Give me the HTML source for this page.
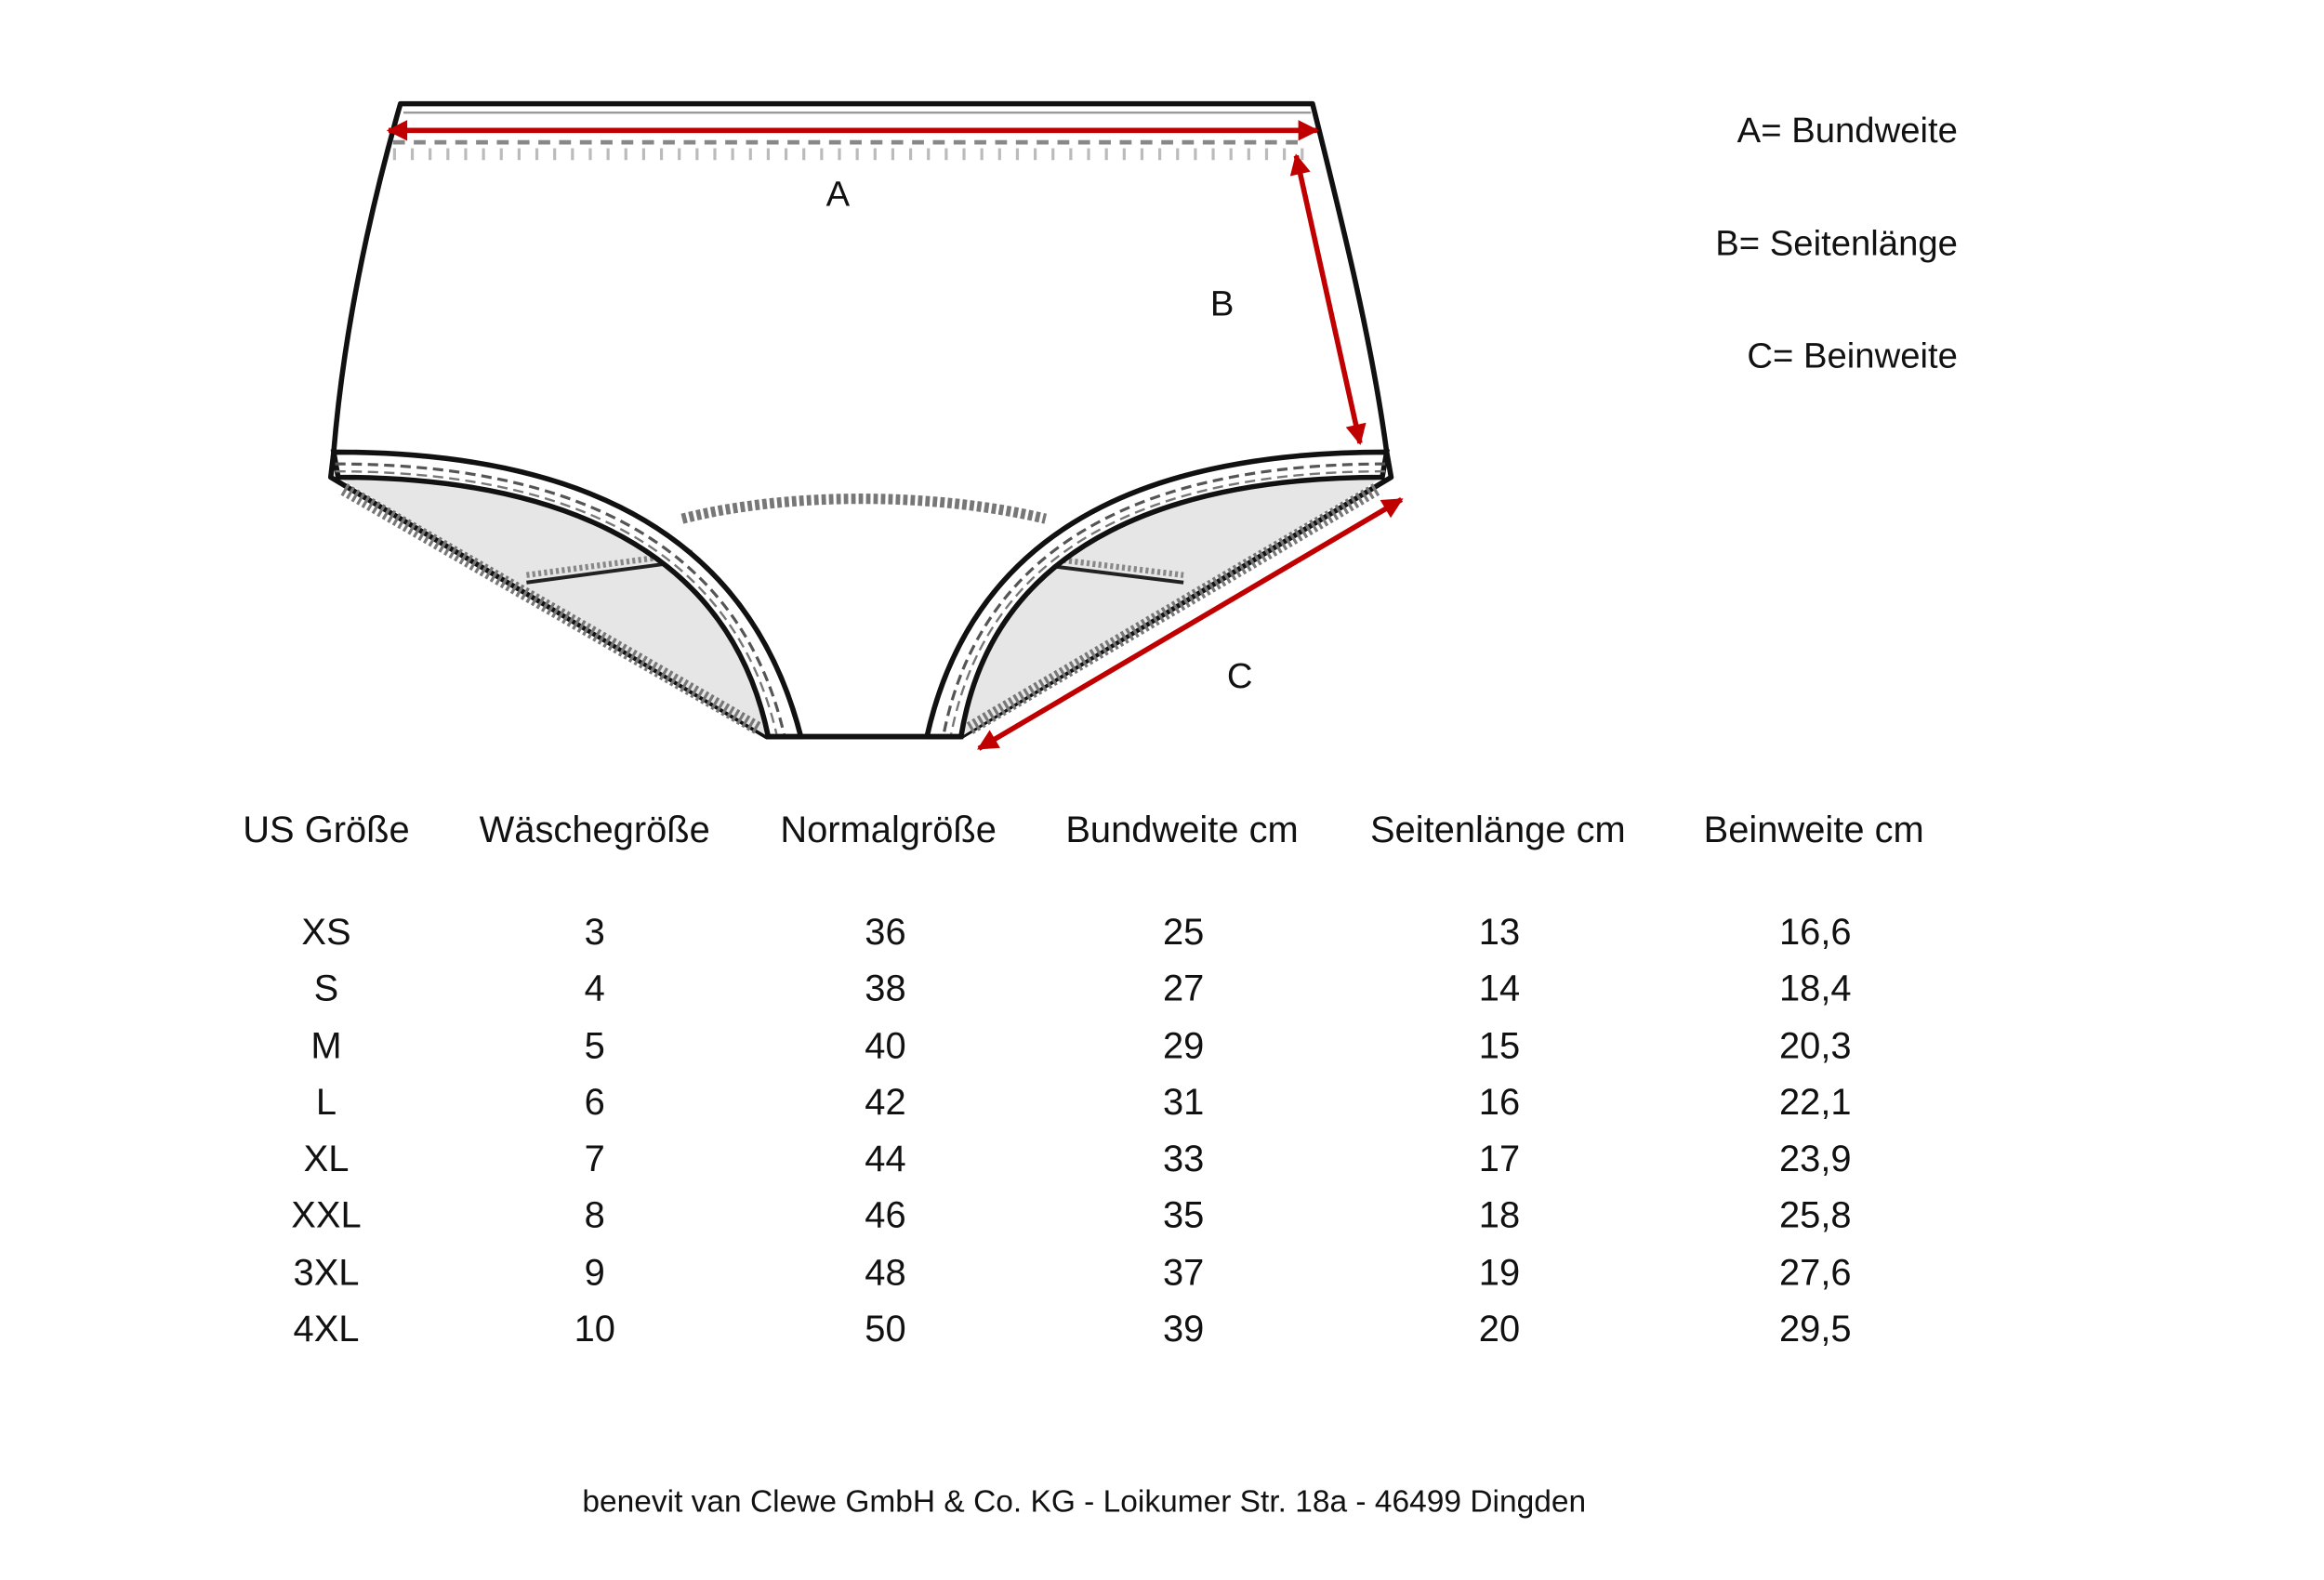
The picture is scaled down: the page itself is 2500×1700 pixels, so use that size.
<!DOCTYPE html>
<html><head><meta charset="utf-8"><style>
html,body{margin:0;padding:0;background:#fff;}
svg{display:block;}
text{font-family:"Liberation Sans Narrow","Liberation Sans",sans-serif;fill:#111;}
</style></head><body>
<svg width="2500" height="1700" viewBox="0 0 1567 1066" preserveAspectRatio="none" xmlns="http://www.w3.org/2000/svg">
<defs>
<marker id="ah2" viewBox="0 0 10 10" markerWidth="16" markerHeight="14" refX="9" refY="5" orient="auto-start-reverse" markerUnits="userSpaceOnUse">
<path d="M0,0 L10,5 L0,10 Z" fill="#c00000"/></marker>
</defs>
<path d="M270,70 L885,70 C905,150 925,230 935,305 L938,322 L648,497 L517,497 L223,322 L225,305 C232,220 250,140 270,70 Z" fill="#fff" stroke="#111" stroke-width="3.5" stroke-linejoin="round"/>
<line x1="272" y1="76" x2="884" y2="76" stroke="#999" stroke-width="1.5"/>
<path d="M265,96 L880,96" stroke="#888" stroke-width="3" stroke-dasharray="8,6"/>
<path d="M265,104 L880,104" stroke="#bbb" stroke-width="8" stroke-dasharray="2,10"/>
<path d="M228,322 C360,322 490,360 518,497 Z" fill="#e6e6e6"/>
<path d="M932,322 C800,322 670,360 648,497 Z" fill="#e6e6e6"/>
<line x1="232" y1="330" x2="512" y2="492" stroke="#777" stroke-width="9" stroke-dasharray="2,2"/>
<line x1="928" y1="330" x2="653" y2="492" stroke="#777" stroke-width="9" stroke-dasharray="2,2"/>
<line x1="355" y1="393" x2="467" y2="378" stroke="#222" stroke-width="2.5"/>
<line x1="355" y1="388" x2="467" y2="373" stroke="#888" stroke-width="4" stroke-dasharray="2,2"/>
<line x1="693" y1="380" x2="798" y2="393" stroke="#222" stroke-width="2.5"/>
<line x1="693" y1="375" x2="798" y2="388" stroke="#888" stroke-width="4" stroke-dasharray="2,2"/>
<path d="M460,350 C530,332 630,332 705,350" fill="none" stroke="#777" stroke-width="7" stroke-dasharray="3,2"/>
<path d="M225,305 C360,305 500,340 540,497 L518,497 C490,360 360,322 228,322 Z" fill="#fff" stroke="#111" stroke-width="3.5"/>
<path d="M226,313 C360,313 496,350 529,497" fill="none" stroke="#555" stroke-width="2" stroke-dasharray="7,4"/>
<path d="M226,318 C360,318 492,355 524,497" fill="none" stroke="#777" stroke-width="1.5" stroke-dasharray="7,4"/>
<path d="M935,305 C800,305 660,340 625,497 L648,497 C670,360 800,322 932,322 Z" fill="#fff" stroke="#111" stroke-width="3.5"/>
<path d="M934,313 C800,313 664,350 636,497" fill="none" stroke="#555" stroke-width="2" stroke-dasharray="7,4"/>
<path d="M934,318 C800,318 668,355 641,497" fill="none" stroke="#777" stroke-width="1.5" stroke-dasharray="7,4"/>
<line x1="517" y1="497" x2="648" y2="497" stroke="#111" stroke-width="3.5"/>
<line x1="262" y1="88" x2="888" y2="88" stroke="#c00000" stroke-width="3.5" marker-start="url(#ah2)" marker-end="url(#ah2)"/>
<line x1="874" y1="105" x2="917" y2="299" stroke="#c00000" stroke-width="3.5" marker-start="url(#ah2)" marker-end="url(#ah2)"/>
<line x1="945" y1="337" x2="660" y2="505" stroke="#c00000" stroke-width="3.5" marker-start="url(#ah2)" marker-end="url(#ah2)"/>
<g font-size="24" text-anchor="middle">
<text x="565" y="139">A</text><text x="824" y="213">B</text><text x="836" y="464">C</text>
</g>
<g font-size="24" text-anchor="end">
<text x="1320" y="96">A= Bundweite</text>
<text x="1320" y="172">B= Seitenlänge</text>
<text x="1320" y="248">C= Beinweite</text>
</g>
<g font-size="25" text-anchor="middle">
<text x="220" y="568">US Größe</text><text x="401" y="568">Wäschegröße</text><text x="599" y="568">Normalgröße</text><text x="797" y="568">Bundweite cm</text><text x="1010" y="568">Seitenlänge cm</text><text x="1223" y="568">Beinweite cm</text>
</g>
<g font-size="25" text-anchor="middle">
<text x="220" y="637">XS</text><text x="401" y="637">3</text><text x="597" y="637">36</text><text x="798" y="637">25</text><text x="1011" y="637">13</text><text x="1224" y="637">16,6</text>
<text x="220" y="675">S</text><text x="401" y="675">4</text><text x="597" y="675">38</text><text x="798" y="675">27</text><text x="1011" y="675">14</text><text x="1224" y="675">18,4</text>
<text x="220" y="714">M</text><text x="401" y="714">5</text><text x="597" y="714">40</text><text x="798" y="714">29</text><text x="1011" y="714">15</text><text x="1224" y="714">20,3</text>
<text x="220" y="752">L</text><text x="401" y="752">6</text><text x="597" y="752">42</text><text x="798" y="752">31</text><text x="1011" y="752">16</text><text x="1224" y="752">22,1</text>
<text x="220" y="790">XL</text><text x="401" y="790">7</text><text x="597" y="790">44</text><text x="798" y="790">33</text><text x="1011" y="790">17</text><text x="1224" y="790">23,9</text>
<text x="220" y="828">XXL</text><text x="401" y="828">8</text><text x="597" y="828">46</text><text x="798" y="828">35</text><text x="1011" y="828">18</text><text x="1224" y="828">25,8</text>
<text x="220" y="867">3XL</text><text x="401" y="867">9</text><text x="597" y="867">48</text><text x="798" y="867">37</text><text x="1011" y="867">19</text><text x="1224" y="867">27,6</text>
<text x="220" y="905">4XL</text><text x="401" y="905">10</text><text x="597" y="905">50</text><text x="798" y="905">39</text><text x="1011" y="905">20</text><text x="1224" y="905">29,5</text>
</g>
<text x="731" y="1020" font-size="21" text-anchor="middle">benevit van Clewe GmbH &amp; Co. KG - Loikumer Str. 18a - 46499 Dingden</text>
</svg>
</body></html>
